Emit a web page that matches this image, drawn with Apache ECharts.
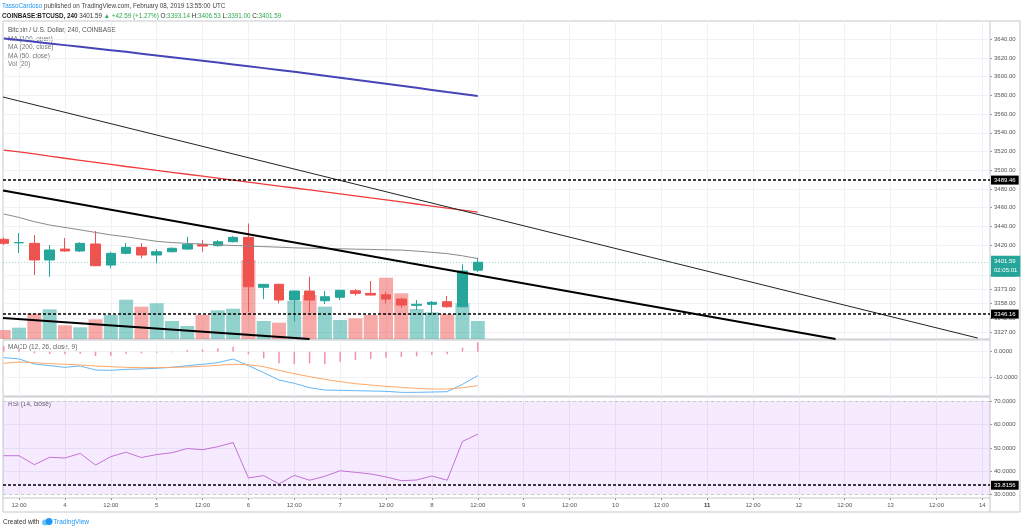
<!DOCTYPE html>
<html>
<head>
<meta charset="utf-8">
<script src="https://cdn.jsdelivr.net/npm/echarts@6/dist/echarts.min.js"></script>
<style>
html, body { margin: 0; padding: 0; background: #fff; }
#chart { width: 1024px; height: 531px; }
</style>
</head>
<body>
<div id="chart"></div>
<script>
// BTCUSD 4h candles, 08:00 Feb 3 .. 12:00 Feb 8 2019 (x = candle index)
// [open, close, low, high]
var candles = [
  [3426.1, 3421.8, 3420.0, 3428.0],
  [3422.4, 3422.6, 3411.4, 3432.8],
  [3421.8, 3404.0, 3387.9, 3430.7],
  [3404.0, 3414.7, 3386.1, 3420.0],
  [3415.7, 3413.6, 3412.8, 3427.5],
  [3413.6, 3421.8, 3412.5, 3422.9],
  [3421.1, 3397.9, 3397.5, 3435.0],
  [3398.6, 3411.1, 3395.1, 3412.8],
  [3411.1, 3417.5, 3410.1, 3422.1],
  [3417.5, 3409.3, 3405.8, 3422.1],
  [3409.3, 3412.8, 3400.4, 3415.7],
  [3412.8, 3416.5, 3412.2, 3417.5],
  [3415.7, 3420.7, 3414.7, 3428.9],
  [3420.7, 3418.9, 3412.8, 3425.3],
  [3419.3, 3423.5, 3418.2, 3425.3],
  [3423.5, 3428.2, 3422.9, 3429.6],
  [3428.2, 3375.4, 3348.7, 3443.0],
  [3374.8, 3378.0, 3362.2, 3378.3],
  [3378.0, 3361.2, 3357.6, 3378.8],
  [3361.2, 3370.8, 3338.0, 3371.3],
  [3370.8, 3361.2, 3348.0, 3386.1],
  [3360.4, 3364.7, 3356.9, 3370.8],
  [3364.1, 3371.6, 3361.2, 3371.9],
  [3371.1, 3368.3, 3366.0, 3372.9],
  [3368.3, 3366.5, 3366.2, 3381.5],
  [3366.8, 3362.2, 3357.6, 3370.1],
  [3362.2, 3355.8, 3352.9, 3363.6],
  [3355.5, 3356.6, 3350.5, 3361.2],
  [3356.6, 3358.7, 3345.1, 3360.1],
  [3359.4, 3354.0, 3352.9, 3365.5],
  [3354.0, 3392.2, 3353.7, 3399.4],
  [3393.14, 3401.59, 3391.00, 3406.53]
];
var volumes = [90, 113, 253, 297, 137, 117, 197, 240, 393, 323, 357, 180, 130, 240, 287, 303,
  790, 180, 163, 380, 440, 323, 190, 207, 240, 613, 457, 300, 267, 247, 357, 180];

var maBlue = [3641.0, 3639.2, 3637.4, 3635.6, 3633.8, 3632.0, 3630.2, 3628.4, 3626.6, 3624.7,
  3622.8, 3620.9, 3619.0, 3617.1, 3615.2, 3613.2, 3611.2, 3609.2, 3607.2, 3605.2,
  3603.1, 3601.0, 3598.9, 3596.8, 3594.7, 3592.5, 3590.3, 3588.1, 3585.9, 3583.7, 3581.6, 3579.5];
var maRed = [3521.6, 3519.6, 3517.5, 3515.1, 3512.8, 3510.6, 3508.4, 3506.2, 3504.0, 3501.9,
  3499.8, 3497.8, 3495.7, 3493.6, 3491.5, 3489.4, 3487.3, 3485.2, 3483.1, 3481.0,
  3478.9, 3476.8, 3474.7, 3472.6, 3470.4, 3468.3, 3466.1, 3463.9, 3461.7, 3459.5, 3457.4, 3455.3];
var maGrey = [3453.2, 3449.5, 3445.0, 3441.4, 3438.8, 3436.2, 3433.5, 3430.8, 3428.8, 3426.3,
  3424.0, 3422.6, 3421.8, 3421.0, 3420.2, 3419.5, 3418.9, 3418.3, 3417.7, 3417.0,
  3416.6, 3416.3, 3416.0, 3415.6, 3415.3, 3414.9, 3414.6, 3413.5, 3412.2, 3410.8, 3408.5, 3405.5];

var macdLine = [-2.36, -2.89, -4.86, -5.52, -6.18, -5.65, -7.23, -7.37, -6.97, -6.84,
  -6.57, -6.18, -5.52, -4.99, -4.34, -2.89, -5.52, -8.29, -11.19, -12.50,
  -14.22, -15.14, -15.27, -15.40, -15.53, -15.66, -16.06, -16.06, -15.93, -15.80, -12.90, -9.47];
var signalLine = [-4.60, -4.07, -4.34, -4.74, -4.99, -5.26, -5.65, -5.92, -6.18, -6.31,
  -6.31, -6.18, -6.05, -5.78, -5.39, -4.99, -5.13, -5.92, -7.37, -8.68,
  -9.87, -10.92, -11.85, -12.64, -13.16, -13.69, -14.09, -14.49, -14.75, -14.75, -14.22, -13.43];
var macdHist = [2.24, 1.2, -0.66, -0.92, -1.05, -0.79, -1.71, -1.58, -0.79, -0.66,
  -0.40, -0.26, 0.66, 0.92, 1.32, 1.98, -1.05, -2.64, -4.61, -4.87,
  -4.61, -5.0, -3.95, -3.29, -2.9, -2.37, -2.1, -1.84, -1.32, -1.05, 1.58, 3.69];

var rsi = [46.6, 46.6, 42.7, 45.9, 45.6, 47.6, 42.5, 46.2, 48.1, 45.8,
  47.1, 47.9, 49.7, 49.2, 50.5, 52.3, 37.0, 38.0, 34.4, 38.1,
  36.0, 37.7, 40.1, 39.4, 38.7, 37.4, 35.8, 36.1, 37.8, 36.0, 52.8, 55.9];

// drawn objects: [candle index, price]
var trendThin = [[-0.05, 3578.3], [63.7, 3320.5]];
var trendThickUpper = [[-0.05, 3478.3], [54.4, 3319.5]];
var trendThickLower = [[-0.05, 3341.9], [20.0, 3319.5]];
var levelHigh = 3489.46;
var levelLow = 3346.16;
var lastPrice = 3401.59;
var rsiLevel = 33.8156;

var timeTicks = [1, 4, 7, 10, 13, 16, 19, 22, 25, 28, 31, 34, 37, 40, 43, 46, 49, 52, 55, 58, 61, 64];
var timeLabels = ['12:00', '4', '12:00', '5', '12:00', '6', '12:00', '7', '12:00', '8', '12:00',
  '9', '12:00', '10', '12:00', '11', '12:00', '12', '12:00', '13', '12:00', '14'];
var priceTicks = [3640, 3620, 3600, 3580, 3560, 3540, 3520, 3500, 3480, 3460, 3440, 3420, 3388, 3373, 3358, 3342, 3327];
var macdTicks = [0, -10];
var rsiTicks = [70, 60, 50, 40, 30];

var FONT = 'Liberation Sans';
var UP = '#26a69a', DOWN = '#ef5350';
var GRID_LINE = '#eef1f5';
var X_MIN = -0.05, X_MAX = 64.5;

function xAxisFor(gridIndex, showLabels) {
  return {
    type: 'value', gridIndex: gridIndex, min: X_MIN, max: X_MAX,
    axisLine: { show: false, onZero: false },
    axisTick: { show: showLabels, customValues: timeTicks, length: 2, lineStyle: { color: '#999' } },
    axisLabel: {
      show: showLabels, customValues: timeTicks, margin: 4,
      fontSize: 6, color: '#555', fontFamily: FONT,
      formatter: function (v) {
        var t = timeLabels[timeTicks.indexOf(Math.round(v))] || '';
        return t === '11' ? '{b|11}' : t;
      },
      rich: { b: { fontSize: 6, fontWeight: 'bold', color: '#333', fontFamily: FONT } }
    },
    splitLine: { show: true, lineStyle: { color: GRID_LINE, width: 1 } }
  };
}

function yAxisFor(gridIndex, min, max, ticks, digits) {
  return {
    type: 'value', gridIndex: gridIndex, position: 'right', min: min, max: max,
    axisLine: { show: false, onZero: false },
    axisTick: { show: true, customValues: ticks, length: 2, lineStyle: { color: '#999' } },
    axisLabel: {
      customValues: ticks, margin: 4, fontSize: 6, color: '#555', fontFamily: FONT,
      formatter: function (v) { return v.toFixed(digits); }
    },
    splitLine: { show: true, lineStyle: { color: GRID_LINE, width: 1 } }
  };
}

function lineSeries(data, color, width, xi, yi) {
  return {
    type: 'line', xAxisIndex: xi, yAxisIndex: yi, data: data,
    symbol: 'none', silent: true, z: 4,
    lineStyle: { color: color, width: width }
  };
}

function indexed(arr) { return arr.map(function (v, i) { return [i, v]; }); }

function levelLabel(bg) {
  return {
    show: true, position: 'end', distance: 1,
    color: '#fff', backgroundColor: bg, padding: [2, 3, 1, 3],
    fontSize: 6, fontFamily: FONT
  };
}

var chart = echarts.init(document.getElementById('chart'));

var HEAD = 6.3;
var option = {
  animation: false,
  backgroundColor: '#fff',
  textStyle: { fontFamily: FONT },
  title: [
    {
      left: 2, top: 3.5, padding: 0,
      text: '{u|TassoCardoso}{t| published on TradingView.com, February 08, 2019 13:55:00 UTC}',
      textStyle: { fontWeight: 'normal', rich: {
        u: { color: '#2196f3', fontSize: HEAD, fontWeight: 'normal', fontFamily: FONT },
        t: { color: '#444', fontSize: HEAD, fontWeight: 'normal', fontFamily: FONT }
      } }
    },
    {
      left: 2, top: 13, padding: 0,
      text: '{b|COINBASE:BTCUSD, 240}{n| 3401.59 }{g|\u25B2 +42.59 (+1.27%)}{n| O:}{g|3393.14}{n| H:}{g|3406.53}{n| L:}{g|3391.00}{n| C:}{g|3401.59}',
      textStyle: { fontWeight: 'normal', rich: {
        b: { color: '#222', fontSize: HEAD, fontWeight: 'bold', fontFamily: FONT },
        n: { color: '#333', fontSize: HEAD, fontWeight: 'normal', fontFamily: FONT },
        g: { color: '#2fa84f', fontSize: HEAD, fontWeight: 'normal', fontFamily: FONT }
      } }
    }
  ],
  grid: [
    { left: 3, right: 34, top: 21, height: 318, show: true, borderColor: '#c4c7cc', borderWidth: 1 },
    { left: 3, right: 34, top: 340, height: 56, show: true, borderColor: '#c4c7cc', borderWidth: 1 },
    { left: 3, right: 34, top: 397, height: 101, show: true, borderColor: '#c4c7cc', borderWidth: 1 }
  ],
  xAxis: [xAxisFor(0, false), xAxisFor(1, false), xAxisFor(2, true)],
  yAxis: [
    yAxisFor(0, 3319.5, 3659.6, priceTicks, 2),
    { type: 'value', gridIndex: 0, min: 0, max: 3180, show: false, splitLine: { show: false } },
    yAxisFor(1, -17.5, 4.6, macdTicks, 4),
    yAxisFor(2, 28.3, 72.0, rsiTicks, 4)
  ],
  series: [
    {
      name: 'Vol', type: 'bar', xAxisIndex: 0, yAxisIndex: 1, barWidth: 14, z: 1, silent: true,
      data: volumes.map(function (v, i) {
        var isUp = candles[i][1] >= candles[i][0];
        return { value: [i, v], itemStyle: { color: isUp ? 'rgba(38,166,154,0.5)' : 'rgba(239,83,80,0.5)' } };
      })
    },
    {
      name: 'BTCUSD', type: 'candlestick', xAxisIndex: 0, yAxisIndex: 0, barWidth: 10, z: 3, silent: true,
      data: candles.map(function (c, i) { return [i, c[0], c[1], c[2], c[3]]; }),
      encode: { x: 0, y: [1, 2, 3, 4] },
      itemStyle: { color: UP, color0: DOWN, borderColor: UP, borderColor0: DOWN, borderWidth: 1 },
      markLine: {
        silent: true, symbol: 'none', animation: false,
        data: [
          { yAxis: levelHigh, lineStyle: { color: '#000', type: [3, 2], width: 1.5 },
            label: Object.assign(levelLabel('#000'), { formatter: levelHigh.toFixed(2) }) },
          { yAxis: levelLow, lineStyle: { color: '#000', type: [3, 2], width: 1.5 },
            label: Object.assign(levelLabel('#000'), { formatter: levelLow.toFixed(2) }) },
          { yAxis: lastPrice, lineStyle: { color: 'rgba(38,166,154,0.45)', type: [1, 2], width: 1 },
            label: Object.assign(levelLabel(UP), {
              formatter: lastPrice.toFixed(2) + '\n02:05:01', lineHeight: 9, padding: [2, 3, 1, 3], offset: [0, 4]
            }) }
        ]
      }
    },
    lineSeries(indexed(maBlue), '#4545b8', 2, 0, 0),
    lineSeries(indexed(maRed), '#ef3b3b', 1.3, 0, 0),
    lineSeries(indexed(maGrey), '#8a8a8a', 1, 0, 0),
    lineSeries(trendThin, '#222', 1, 0, 0),
    lineSeries(trendThickUpper, '#000', 2, 0, 0),
    lineSeries(trendThickLower, '#000', 2, 0, 0),
    {
      name: 'Histogram', type: 'bar', xAxisIndex: 1, yAxisIndex: 2, barWidth: 1.5, z: 2, silent: true,
      itemStyle: { color: '#f48fb1' },
      data: indexed(macdHist)
    },
    lineSeries(indexed(macdLine), '#64b5f6', 1, 1, 2),
    lineSeries(indexed(signalLine), '#ffa868', 1, 1, 2),
    {
      name: 'RSI', type: 'line', xAxisIndex: 2, yAxisIndex: 3, data: indexed(rsi),
      symbol: 'none', silent: true, z: 4,
      lineStyle: { color: '#c572d6', width: 1 },
      markArea: {
        silent: true,
        itemStyle: { color: 'rgba(153,21,255,0.09)' },
        data: [[{ yAxis: 70 }, { yAxis: 30 }]]
      },
      markLine: {
        silent: true, symbol: 'none', animation: false,
        data: [
          { yAxis: 70, lineStyle: { color: '#c8c8c8', type: [3, 3], width: 1 }, label: { show: false } },
          { yAxis: 30, lineStyle: { color: '#c8c8c8', type: [3, 3], width: 1 }, label: { show: false } },
          { yAxis: rsiLevel, lineStyle: { color: '#000', type: [3, 2], width: 1.5 },
            label: Object.assign(levelLabel('#000'), { formatter: rsiLevel.toFixed(4) }) }
        ]
      }
    }
  ],
  graphic: [
    { type: 'text', left: 8, top: 27, style: { text: 'Bitcoin / U.S. Dollar, 240, COINBASE', fill: '#555', font: '6.5px "' + FONT + '"' } },
    { type: 'text', left: 8, top: 35.5, style: { text: 'MA (100, open)', fill: '#777', font: '6.5px "' + FONT + '"' } },
    { type: 'text', left: 8, top: 44, style: { text: 'MA (200, close)', fill: '#777', font: '6.5px "' + FONT + '"' } },
    { type: 'text', left: 8, top: 52.5, style: { text: 'MA (50, close)', fill: '#777', font: '6.5px "' + FONT + '"' } },
    { type: 'text', left: 8, top: 61, style: { text: 'Vol (20)', fill: '#777', font: '6.5px "' + FONT + '"' } },
    { type: 'text', left: 8, top: 344, style: { text: 'MACD (12, 26, close, 9)', fill: '#666', font: '6.5px "' + FONT + '"' } },
    { type: 'text', left: 8, top: 401, style: { text: 'RSI (14, close)', fill: '#666', font: '6.5px "' + FONT + '"' } },
    { type: 'line', shape: { x1: 3, y1: 512, x2: 1020, y2: 512 }, style: { stroke: '#c4c7cc', lineWidth: 1 } },
    { type: 'line', shape: { x1: 3, y1: 498, x2: 3, y2: 512 }, style: { stroke: '#c4c7cc', lineWidth: 1 } },
    { type: 'line', shape: { x1: 990, y1: 498, x2: 990, y2: 512 }, style: { stroke: '#c4c7cc', lineWidth: 1 } },
    { type: 'line', shape: { x1: 1020, y1: 21, x2: 1020, y2: 512 }, style: { stroke: '#c4c7cc', lineWidth: 1 } },
    { type: 'line', shape: { x1: 990, y1: 21, x2: 1020, y2: 21 }, style: { stroke: '#c4c7cc', lineWidth: 1 } },
    { type: 'text', left: 3, top: 518.5, style: {
      text: '{d|Created with }{b|TradingView}',
      rich: {
        d: { fill: '#333', fontSize: 6.5, fontFamily: FONT },
        b: { fill: '#2196f3', fontSize: 6.5, fontFamily: FONT, padding: [0, 0, 0, 12] }
      }
    } },
    { type: 'circle', shape: { cx: 45, cy: 522.5, r: 3 }, style: { fill: '#6ec6f5' } },
    { type: 'circle', shape: { cx: 49, cy: 521.5, r: 3.5 }, style: { fill: '#2196f3' } }
  ]
};

chart.setOption(option);
</script>
</body>
</html>
